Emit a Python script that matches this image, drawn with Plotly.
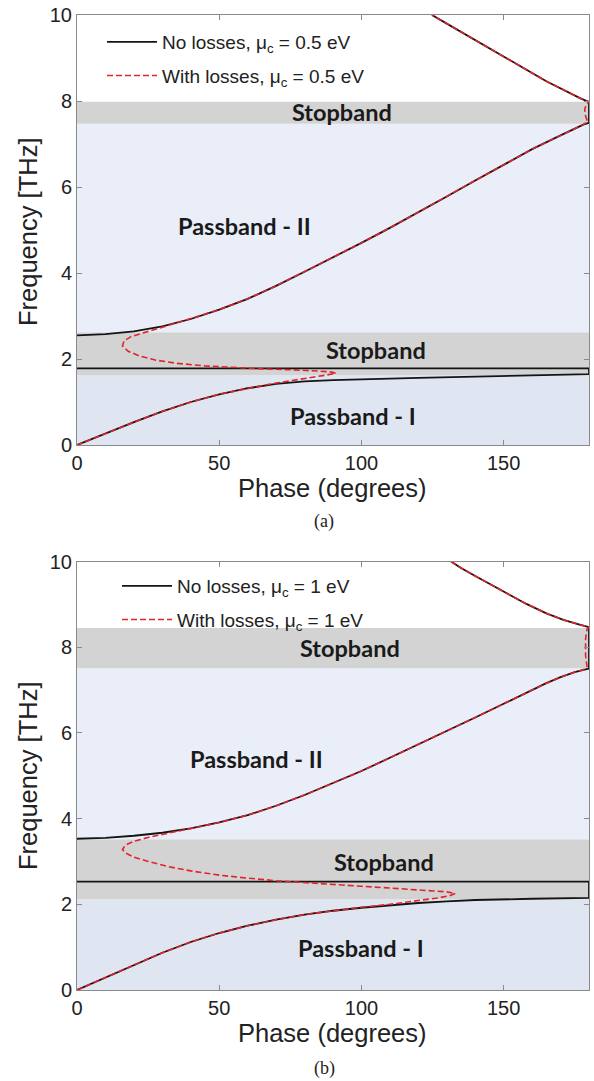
import plotly.graph_objects as go

W, H = 594, 1081

# ---------------- data (phase in degrees, frequency in THz) ----------------
# Panel (a): mu_c = 0.5 eV
a_nl_phase = [0, 10, 20, 30, 40, 50, 60, 70, 80, 90, 100, 120, 140, 160, 180, 180, 0, None,
              0, 10, 20, 30, 40, 50, 60, 70, 80, 90, 100, 110, 120, 130, 140, 150, 160, 170, 175, 178, 180,
              180, 177, 171, 165, 160, 155, 151, 145, 140, 135, 130, 124.8]
a_nl_freq = [0, 0.27, 0.53, 0.78, 1.0, 1.18, 1.32, 1.42, 1.48, 1.51, 1.53, 1.56, 1.59, 1.62, 1.65, 1.78, 1.78, None,
             2.55, 2.58, 2.64, 2.76, 2.93, 3.15, 3.40, 3.70, 4.03, 4.36, 4.70, 5.05, 5.41, 5.78, 6.15, 6.52, 6.88, 7.2, 7.36, 7.45, 7.49,
             7.98, 8.06, 8.26, 8.46, 8.65, 8.84, 8.99, 9.21, 9.40, 9.60, 9.80, 10.0]

a_ls_phase = [0, 10, 20, 30, 40, 50, 60, 65, 70, 75, 80, 85, 88, 91, 89, 85, 80, 75, 65, 55, 45, 35, 28, 22, 18, 16,
              16.5, 19, 23, 28, 33, 40, 50, 60, 70, 80, 90, 100, 110, 120, 130, 140, 150, 160, 170, 175, 178,
              179.5, 178.8, 178.5, 179, 180, 177, 171, 165, 160, 155, 151, 145, 140, 135, 130, 124.8]
a_ls_freq = [0, 0.27, 0.53, 0.78, 1.0, 1.18, 1.32, 1.38, 1.44, 1.49, 1.54, 1.59, 1.63, 1.67, 1.70, 1.72, 1.74, 1.75, 1.77, 1.80, 1.84, 1.90, 1.97, 2.07, 2.18, 2.30,
             2.42, 2.52, 2.60, 2.69, 2.79, 2.94, 3.15, 3.40, 3.70, 4.03, 4.36, 4.70, 5.05, 5.41, 5.78, 6.15, 6.52, 6.88, 7.2, 7.36, 7.45,
             7.52, 7.65, 7.80, 7.92, 7.98, 8.06, 8.26, 8.46, 8.65, 8.84, 8.99, 9.21, 9.40, 9.60, 9.80, 10.0]

# Panel (b): mu_c = 1 eV
b_nl_phase = [0, 10, 20, 30, 40, 50, 60, 70, 80, 90, 100, 110, 120, 130, 140, 160, 180, 180, 0, None,
              0, 10, 20, 30, 40, 50, 60, 70, 80, 90, 100, 110, 120, 130, 140, 150, 160, 165, 170, 175, 178, 180,
              180, 177, 171, 165, 158, 151, 145, 140, 135, 131.5]
b_nl_freq = [0, 0.29, 0.58, 0.87, 1.12, 1.33, 1.5, 1.64, 1.76, 1.85, 1.92, 1.98, 2.03, 2.07, 2.10, 2.13, 2.15, 2.53, 2.53, None,
             3.53, 3.55, 3.60, 3.67, 3.77, 3.91, 4.08, 4.30, 4.55, 4.83, 5.11, 5.42, 5.73, 6.05, 6.36, 6.68, 7.0, 7.16, 7.30, 7.42, 7.47, 7.50,
             8.47, 8.52, 8.64, 8.79, 9.01, 9.26, 9.47, 9.66, 9.85, 10.0]

b_ls_phase = [0, 10, 20, 30, 40, 50, 60, 70, 80, 90, 100, 110, 120, 127, 131, 133, 130, 122, 110, 100, 90, 80, 70, 60, 50,
              40, 32, 25, 20, 17, 16, 17, 20, 25, 30, 38, 45, 50, 60, 70, 80, 90, 100, 110, 120, 130, 140, 150, 160, 165,
              170, 175, 178, 179.3, 178.8, 178.8, 179.3, 180, 177, 171, 165, 158, 151, 145, 140, 135, 131.5]
b_ls_freq = [0, 0.29, 0.58, 0.87, 1.12, 1.33, 1.5, 1.64, 1.76, 1.85, 1.93, 2.0, 2.08, 2.15, 2.20, 2.25, 2.29, 2.33, 2.38, 2.42, 2.46, 2.50, 2.55, 2.61, 2.68,
             2.78, 2.88, 3.0, 3.1, 3.2, 3.28, 3.38, 3.47, 3.56, 3.63, 3.73, 3.83, 3.91, 4.08, 4.30, 4.55, 4.83, 5.11, 5.42, 5.73, 6.05, 6.36, 6.68, 7.0, 7.16,
             7.30, 7.42, 7.47, 7.55, 7.80, 8.20, 8.42, 8.47, 8.52, 8.64, 8.79, 9.01, 9.26, 9.47, 9.66, 9.85, 10.0]

# band edges (THz)
a_pass1 = [0, 1.63]
a_stop1 = [1.63, 2.62]
a_pass2 = [2.62, 7.47]
a_stop2 = [7.47, 7.98]
b_pass1 = [0, 2.12]
b_stop1 = [2.12, 3.52]
b_pass2 = [3.52, 7.51]
b_stop2 = [7.51, 8.45]

# region labels: (text, phase, freq)
a_labels = [("Stopband", 93, 7.74), ("Passband - II", 59, 5.1), ("Stopband", 105, 2.2), ("Passband - I", 97, 0.68)]
b_labels = [("Stopband", 96, 7.97), ("Passband - II", 63, 5.39), ("Stopband", 108, 2.98), ("Passband - I", 100, 0.97)]

a_names = ["No losses, \u03bc<sub>c</sub> = 0.5 eV", "With losses, \u03bc<sub>c</sub> = 0.5 eV"]
b_names = ["No losses, \u03bc<sub>c</sub> = 1 eV", "With losses, \u03bc<sub>c</sub> = 1 eV"]

x_ticks = [0, 50, 100, 150]
y_ticks = [0, 2, 4, 6, 8, 10]

# ---------------- styling ----------------
PASS1_C = "#dfe6f1"
PASS2_C = "#e9eef8"
STOP_C = "#d3d3d3"
BLACK = "#141414"
RED = "#e3232c"
FRAME = "#8a8a8a"
TICKFONT = dict(family="Liberation Sans, Arial", size=20, color="#222222")

fig = go.Figure()

def add_panel(xa, ya, nl_x, nl_y, ls_x, ls_y, names, legend):
    fig.add_trace(go.Scatter(x=nl_x, y=nl_y, mode="lines", name=names[0],
                             line=dict(color=BLACK, width=1.8), xaxis=xa, yaxis=ya,
                             legend=legend, legendgroup=legend + "nl", connectgaps=False))
    fig.add_trace(go.Scatter(x=ls_x, y=ls_y, mode="lines", name=names[1],
                             line=dict(color=RED, width=1.6, dash="6px,3px"), xaxis=xa, yaxis=ya,
                             legend=legend, legendgroup=legend + "ls"))

add_panel("x", "y", a_nl_phase, a_nl_freq, a_ls_phase, a_ls_freq, a_names, "legend")
add_panel("x2", "y2", b_nl_phase, b_nl_freq, b_ls_phase, b_ls_freq, b_names, "legend2")

shapes = []
def bands(xr, yr, p1, s1, p2, s2):
    for (lo, hi), col in [(p1, PASS1_C), (s1, STOP_C), (p2, PASS2_C), (s2, STOP_C)]:
        shapes.append(dict(type="rect", xref=xr, yref=yr, x0=0, x1=180, y0=lo, y1=hi,
                           fillcolor=col, line=dict(width=0), layer="below"))
bands("x", "y", a_pass1, a_stop1, a_pass2, a_stop2)
bands("x2", "y2", b_pass1, b_stop1, b_pass2, b_stop2)

annotations = []
LABELFONT = dict(family="Lato, Open Sans", size=23.5, color="#1a1a1a", weight="bold")
for xr, yr, labs in [("x", "y", a_labels), ("x2", "y2", b_labels)]:
    for t, px, fy in labs:
        annotations.append(dict(text="<b>%s</b>" % t, x=px, y=fy, xref=xr, yref=yr,
                                showarrow=False, font=LABELFONT))

x0p, x1p = 77 / W, 589 / W
ya_dom = [1 - 445 / H, 1 - 15 / H]
yb_dom = [1 - 990 / H, 1 - 561.5 / H]

TITLEFONT = dict(family="Liberation Sans, Arial", size=25.5, color="#222222")
for ycen in [488, 1033]:
    annotations.append(dict(text="Phase (degrees)", x=(77 + 589) / 2 / W, y=1 - ycen / H,
                            xref="paper", yref="paper", showarrow=False, font=TITLEFONT,
                            xanchor="center", yanchor="middle"))
for ycen in [232, 776]:
    annotations.append(dict(text="Frequency [THz]", x=28 / W, y=1 - ycen / H,
                            xref="paper", yref="paper", showarrow=False, font=TITLEFONT,
                            textangle=-90, xanchor="center", yanchor="middle"))
CAPFONT = dict(family="Liberation Serif, Times New Roman", size=18, color="#222222")
for t, ycen in [("(a)", 521), ("(b)", 1068)]:
    annotations.append(dict(text=t, x=324 / W, y=1 - ycen / H, xref="paper", yref="paper",
                            showarrow=False, font=CAPFONT, xanchor="center", yanchor="middle"))

axis_common = dict(showline=True, linecolor=FRAME, linewidth=1, mirror="ticks",
                   ticks="inside", ticklen=5, tickcolor=FRAME, showgrid=False,
                   zeroline=False, tickfont=TICKFONT, automargin=False)

LEGFONT = dict(family="Liberation Sans, Arial", size=19, color="#222222")
fig.update_layout(
    width=W, height=H, margin=dict(l=0, r=0, t=0, b=0, autoexpand=False),
    paper_bgcolor="white", plot_bgcolor="white",
    xaxis=dict(domain=[x0p, x1p], range=[0, 180], tickvals=x_ticks, anchor="y", **axis_common),
    yaxis=dict(domain=ya_dom, range=[0, 10], tickvals=y_ticks, anchor="x", **axis_common),
    xaxis2=dict(domain=[x0p, x1p], range=[0, 180], tickvals=x_ticks, anchor="y2", **axis_common),
    yaxis2=dict(domain=yb_dom, range=[0, 10], tickvals=y_ticks, anchor="x2", **axis_common),
    shapes=shapes, annotations=annotations,
    legend=dict(x=102 / W, y=1 - 23 / H, xanchor="left", yanchor="top", bgcolor="rgba(0,0,0,0)",
                font=LEGFONT, tracegroupgap=6, itemwidth=50),
    legend2=dict(x=117 / W, y=1 - 567 / H, xanchor="left", yanchor="top", bgcolor="rgba(0,0,0,0)",
                 font=LEGFONT, tracegroupgap=6, itemwidth=50),
    showlegend=True,
)

fig.write_html("out.html")
